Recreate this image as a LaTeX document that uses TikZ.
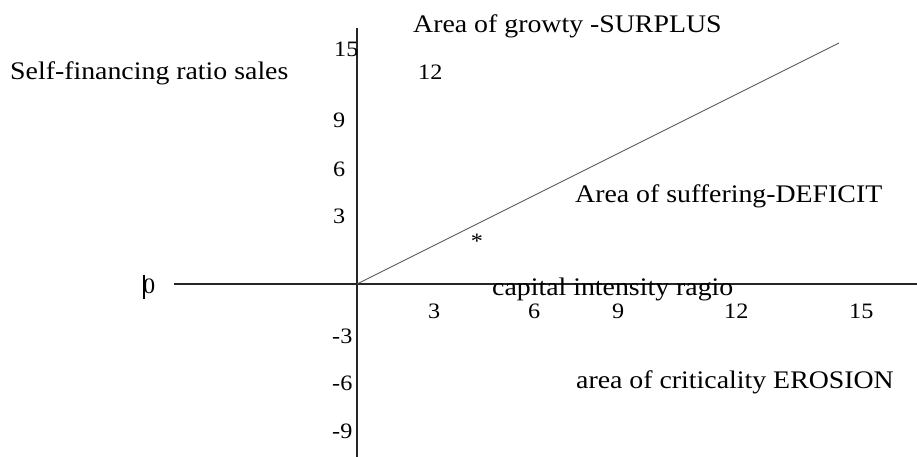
\documentclass[tikz,border=0pt]{standalone}
\usepackage{fontspec}
\setmainfont{Liberation Serif}[FakeStretch=1.1]
\begin{document}
\begin{tikzpicture}[x=1pt,y=-1pt,
  lbl/.style={anchor=base west,inner sep=0pt,font=\fontsize{25.3}{30}\selectfont},
  num/.style={anchor=base west,inner sep=0pt,font=\fontsize{22}{26}\selectfont},
  axis/.style={draw=black!85,line width=1.1pt},
  diag/.style={draw=black!70,line width=0.8pt}]
\useasboundingbox (0,0) rectangle (917,457);
% axes
\coordinate (O) at (357,284);
\coordinate (ytop) at (357,28);
\coordinate (ybot) at (357,457);
\coordinate (xleft) at (174,284);
\coordinate (xright) at (917,284);
\coordinate (dend) at (839,43);
\draw[axis] (ytop) -- (ybot);
\draw[axis] (xleft) -- (xright);
\draw[diag] (O) -- (dend);
% texts
\node[lbl] (surplus) at (413,33) {Area of growty -SURPLUS};
\node[lbl] (selffin) at (10,80) {Self-financing ratio sales};
\node[lbl] (deficit) at (575,202) {Area of suffering-DEFICIT};
\node[lbl] (capital) at (492,295) {capital intensity ragio};
\node[lbl] (erosion) at (576,388) {area of criticality EROSION};
\node[inner sep=0pt,font=\fontsize{22}{26}\selectfont] (star) at (477,241) {*};
% y numbers
\node[num] (y15) at (334,57) {15};
\node[num] (y12) at (418,80) {12};
\node[num] (y9) at (333,128) {9};
\node[num] (y6) at (333,176) {6};
\node[num] (y3) at (333,223) {3};
\node[num] (ym3) at (332,343) {-3};
\node[num] (ym6) at (332,390) {-6};
\node[num] (ym9) at (332,438) {-9};
% x numbers
\node[num] (x3) at (428,318) {3};
\node[num] (x6) at (528,318) {6};
\node[num] (x9) at (612,318) {9};
\node[num] (x12) at (724,318) {12};
\node[num] (x15) at (849,318) {15};
% zero with cursor bar
\node[num] (zero) at (143,293) {0};
\coordinate (bartop) at (144,275);
\coordinate (barbot) at (144,299);
\draw[line width=1.6pt] (bartop) -- (barbot);
\end{tikzpicture}
\end{document}
